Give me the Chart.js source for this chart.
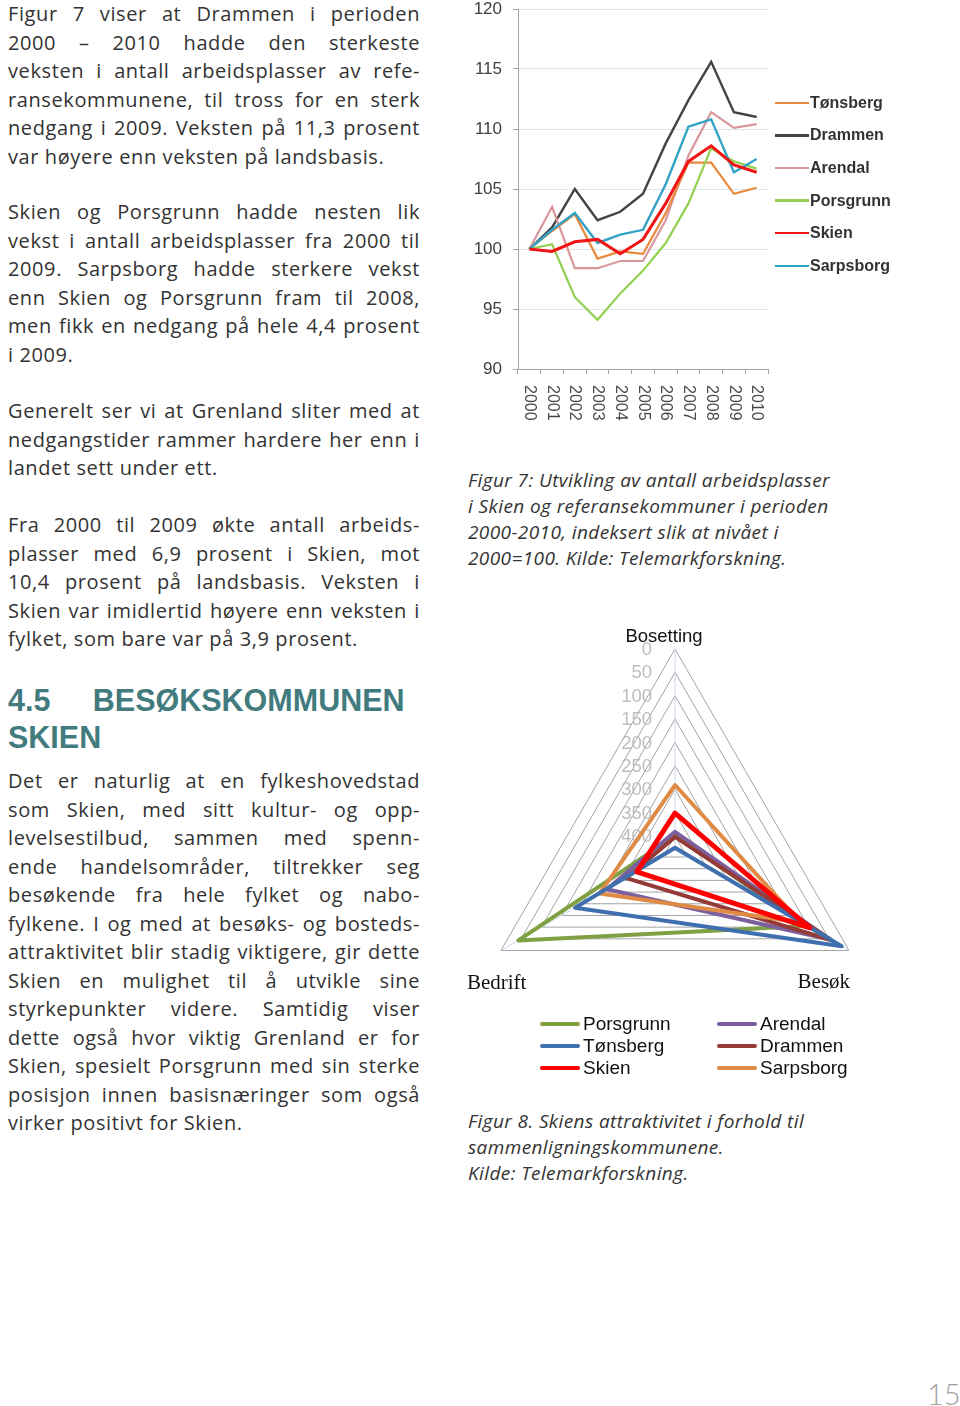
<!DOCTYPE html>
<html>
<head>
<meta charset="utf-8">
<script src="https://cdn.jsdelivr.net/npm/chart.js@4.4.1/dist/chart.umd.min.js"></script>
<style>
  body { margin: 0; width: 960px; height: 1406px; position: relative; background: #fff; overflow: hidden;
         font-family: "Open Sans", Lato, sans-serif; color: #333; }
  .txt { position: absolute; left: 8px; width: 412px; font-size: 20px; line-height: 28.5px; letter-spacing: 0.6px; }
  .txt div { text-align: justify; text-align-last: justify; white-space: nowrap; }
  .txt div.l { text-align: left; text-align-last: left; }
  .head { position: absolute; left: 8px; width: 400px; top: 682px; font-family: "Liberation Sans", Arial, sans-serif;
          font-weight: bold; font-size: 30.5px; line-height: 37px; color: #427b7e; }
  .head div { white-space: nowrap; }
  .cap { position: absolute; left: 468px; font-style: italic; font-size: 19px; letter-spacing: 0.4px; line-height: 26px; color: #333; white-space: nowrap; }
  canvas { position: absolute; }
  .lg { position: absolute; font-family: "Liberation Sans", Arial, sans-serif; white-space: nowrap; }
  .lg span { display: inline-block; vertical-align: middle; }
  .pnum { position: absolute; left: 927px; top: 1376px; font-family: Lato, sans-serif; font-weight: 300; font-size: 29px; color: #a0a0a0; }
</style>
</head>
<body>

<div class="txt" style="top:0px">
  <div>Figur 7 viser at Drammen i perioden</div>
  <div>2000 – 2010 hadde den sterkeste</div>
  <div>veksten i antall arbeidsplasser av refe-</div>
  <div>ransekommunene, til tross for en sterk</div>
  <div>nedgang i 2009. Veksten på 11,3 prosent</div>
  <div class="l">var høyere enn veksten på landsbasis.</div>
</div>
<div class="txt" style="top:198px">
  <div>Skien og Porsgrunn hadde nesten lik</div>
  <div>vekst i antall arbeidsplasser fra 2000 til</div>
  <div>2009. Sarpsborg hadde sterkere vekst</div>
  <div>enn Skien og Porsgrunn fram til 2008,</div>
  <div>men fikk en nedgang på hele 4,4 prosent</div>
  <div class="l">i 2009.</div>
</div>
<div class="txt" style="top:397px">
  <div>Generelt ser vi at Grenland sliter med at</div>
  <div>nedgangstider rammer hardere her enn i</div>
  <div class="l">landet sett under ett.</div>
</div>
<div class="txt" style="top:511px">
  <div>Fra 2000 til 2009 økte antall arbeids-</div>
  <div>plasser med 6,9 prosent i Skien, mot</div>
  <div>10,4 prosent på landsbasis. Veksten i</div>
  <div>Skien var imidlertid høyere enn veksten i</div>
  <div class="l">fylket, som bare var på 3,9 prosent.</div>
</div>
<div class="head">
  <div>4.5&nbsp;&nbsp;&nbsp;&nbsp;&nbsp;BESØKSKOMMUNEN</div>
  <div>SKIEN</div>
</div>
<div class="txt" style="top:767px">
  <div>Det er naturlig at en fylkeshovedstad</div>
  <div>som Skien, med sitt kultur- og opp-</div>
  <div>levelsestilbud, sammen med spenn-</div>
  <div>ende handelsområder, tiltrekker seg</div>
  <div>besøkende fra hele fylket og nabo-</div>
  <div>fylkene. I og med at besøks- og bosteds-</div>
  <div>attraktivitet blir stadig viktigere, gir dette</div>
  <div>Skien en mulighet til å utvikle sine</div>
  <div>styrkepunkter videre. Samtidig viser</div>
  <div>dette også hvor viktig Grenland er for</div>
  <div>Skien, spesielt Porsgrunn med sin sterke</div>
  <div>posisjon innen basisnæringer som også</div>
  <div class="l">virker positivt for Skien.</div>
</div>

<canvas id="lineChart" width="440" height="430" style="left:460px;top:0px"></canvas>
<div id="lineLegend"></div>

<div class="cap" style="top:467px">Figur 7: Utvikling av antall arbeidsplasser<br>i Skien og referansekommuner i perioden<br>2000-2010, indeksert slik at nivået i<br>2000=100. Kilde: Telemarkforskning.</div>

<canvas id="radarChart" width="420" height="470" style="left:460px;top:620px"></canvas>
<div id="radarLegend"></div>

<div class="cap" style="top:1108px">Figur 8. Skiens attraktivitet i forhold til<br>sammenligningskommunene.<br>Kilde: Telemarkforskning.</div>

<div class="pnum">15</div>

<script>
// figur 7 - arbeidsplasser, indeks 2000 = 100
const years = ['2000', '2001', '2002', '2003', '2004', '2005', '2006', '2007', '2008', '2009', '2010'];
const tonsberg = [100, 101.5, 102.9, 99.2, 99.8, 99.6, 103.0, 107.2, 107.2, 104.6, 105.1];
const drammen = [100, 101.8, 105.0, 102.4, 103.1, 104.6, 108.8, 112.4, 115.6, 111.4, 111.0];
const arendal = [100, 103.5, 98.4, 98.4, 99.0, 99.0, 102.4, 107.8, 111.4, 110.1, 110.4];
const porsgrunn = [100, 100.4, 96.0, 94.1, 96.3, 98.2, 100.5, 103.8, 108.4, 107.3, 106.7];
const skien = [100, 99.8, 100.6, 100.8, 99.6, 100.8, 103.8, 107.3, 108.6, 107.0, 106.4];
const sarpsborg = [100, 101.6, 103.0, 100.5, 101.2, 101.6, 105.4, 110.2, 110.8, 106.4, 107.5];
const yTicks = [90, 95, 100, 105, 110, 115, 120];

// figur 8 - attraktivitet (rangering, 0 ytterst)
const radarAxes = ['Bosetting', 'Besøk', 'Bedrift'];
const porsgrunnR = [400, 105, 43];
const tonsbergR = [425, 18, 183];
const skienR = [351, 97, 336];
const arendalR = [391, 47, 262];
const drammenR = [402, 45, 310];
const sarpsborgR = [291, 121, 244];
const radarTicks = [0, 50, 100, 150, 200, 250, 300, 350, 400];
const radarMax = 430;

const lineSets = [
  { label: 'Tønsberg', data: tonsberg, color: '#e8893c', w: 2.2, order: 3 },
  { label: 'Drammen', data: drammen, color: '#444444', w: 2.4, order: 5 },
  { label: 'Arendal', data: arendal, color: '#d9979c', w: 2.2, order: 4 },
  { label: 'Porsgrunn', data: porsgrunn, color: '#92d050', w: 2.2, order: 2 },
  { label: 'Skien', data: skien, color: '#f01414', w: 3, order: 0 },
  { label: 'Sarpsborg', data: sarpsborg, color: '#32a3c4', w: 2.4, order: 1 }
];

const yearLabels = {
  id: 'yearLabels',
  afterDraw(chart) {
    const ctx = chart.ctx;
    const xs = chart.scales.x;
    ctx.save();
    ctx.font = '16px "Liberation Sans", Arial, sans-serif';
    ctx.fillStyle = '#4a4a4a';
    ctx.textAlign = 'left';
    ctx.textBaseline = 'middle';
    years.forEach((y, i) => {
      ctx.save();
      ctx.translate(xs.getPixelForValue(i), chart.chartArea.bottom + 16);
      ctx.rotate(Math.PI / 2);
      ctx.fillText(y, 0, 0);
      ctx.restore();
    });
    ctx.restore();
  }
};

new Chart(document.getElementById('lineChart'), {
  type: 'line',
  data: {
    labels: years,
    datasets: lineSets.map(s => ({
      label: s.label, data: s.data, borderColor: s.color, backgroundColor: s.color,
      borderWidth: s.w, order: s.order, pointRadius: 0, tension: 0
    }))
  },
  options: {
    responsive: false,
    animation: false,
    layout: { padding: { top: 9, right: 132, left: 0, bottom: 0 } },
    plugins: { legend: { display: false }, tooltip: { enabled: false } },
    scales: {
      x: {
        offset: true,
        grid: { offset: true, drawOnChartArea: false, tickLength: 5, color: '#a6a6a6' },
        border: { color: '#a6a6a6' },
        ticks: { display: false },
        afterFit(s) { s.height = 61; s.paddingLeft = 0; s.paddingRight = 0; }
      },
      y: {
        min: 90, max: 120,
        afterBuildTicks(s) { s.ticks = yTicks.map(v => ({ value: v })); },
        ticks: { color: '#404040', font: { size: 17, family: '"Liberation Sans", Arial, sans-serif' }, padding: 11 },
        grid: { color: '#dde5ee', tickColor: '#a6a6a6', tickLength: 5 },
        border: { color: '#a6a6a6' },
        afterFit(s) { s.width = 58; s.paddingTop = 0; s.paddingBottom = 0; }
      }
    }
  },
  plugins: [yearLabels]
});

// legend for figur 7
const lineLegend = document.getElementById('lineLegend');
lineSets.forEach((s, i) => {
  const d = document.createElement('div');
  d.className = 'lg';
  d.style.left = '775px';
  d.style.top = (93 + i * 32.6) + 'px';
  d.style.fontSize = '16px';
  d.style.fontWeight = 'bold';
  d.style.color = '#333';
  d.innerHTML = '<span style="width:34px;height:2.5px;background:' + s.color + '"></span><span style="margin-left:1px">' + s.label + '</span>';
  lineLegend.appendChild(d);
});

const radarSets = [
  { label: 'Porsgrunn', data: porsgrunnR, color: '#7fa043', order: 5 },
  { label: 'Tønsberg', data: tonsbergR, color: '#3f6fae', order: 1 },
  { label: 'Skien', data: skienR, color: '#ff0000', order: 0 },
  { label: 'Arendal', data: arendalR, color: '#7c5f9e', order: 4 },
  { label: 'Drammen', data: drammenR, color: '#943a37', order: 3 },
  { label: 'Sarpsborg', data: sarpsborgR, color: '#df8a45', order: 2 }
];

const radarText = {
  id: 'radarText',
  beforeDatasetsDraw(chart) {
    const ctx = chart.ctx;
    const r = chart.scales.r;
    ctx.save();
    ctx.font = '18.5px "Liberation Sans", Arial, sans-serif';
    ctx.fillStyle = '#bdbdbd';
    ctx.textAlign = 'right';
    ctx.textBaseline = 'middle';
    radarTicks.forEach(v => {
      ctx.fillText(String(v), r.xCenter - 23, r.yCenter - r.getDistanceFromCenterForValue(v) + 1);
    });
    ctx.restore();
  },
  afterDraw(chart) {
    const ctx = chart.ctx;
    const r = chart.scales.r;
    ctx.save();
    ctx.fillStyle = '#111';
    ctx.textBaseline = 'middle';
    const top = r.getPointPosition(0, r.drawingArea);
    ctx.font = '18.5px "Liberation Sans", Arial, sans-serif';
    ctx.textAlign = 'center';
    ctx.fillText(radarAxes[0], top.x - 11, top.y - 12);
    const right = r.getPointPosition(1, r.drawingArea);
    ctx.font = '21px "Liberation Serif", "DejaVu Serif", serif';
    ctx.textAlign = 'right';
    ctx.fillText(radarAxes[1], right.x + 1, right.y + 32);
    const left = r.getPointPosition(2, r.drawingArea);
    ctx.textAlign = 'left';
    ctx.fillText(radarAxes[2], left.x - 34, left.y + 33);
    ctx.restore();
  }
};

new Chart(document.getElementById('radarChart'), {
  type: 'radar',
  data: {
    labels: radarAxes,
    datasets: radarSets.map(s => ({
      label: s.label, data: s.data, borderColor: s.color, backgroundColor: 'rgba(0,0,0,0)',
      borderWidth: s.label === 'Skien' ? 5 : 4, order: s.order, pointRadius: 0, fill: false,
      borderJoinStyle: 'round'
    }))
  },
  options: {
    responsive: false,
    animation: false,
    layout: { padding: { left: 14, right: 4, top: 29, bottom: 39 } },
    plugins: { legend: { display: false }, tooltip: { enabled: false } },
    scales: {
      r: {
        reverse: true,
        min: 0, max: radarMax,
        bounds: 'data',
        afterBuildTicks(s) { s.ticks = [radarMax].concat(radarTicks.slice().reverse()).map(v => ({ value: v })); },
        ticks: { display: false },
        pointLabels: { display: false },
        grid: { color: '#a3a3a3', lineWidth: 1 },
        angleLines: { color: '#c9d8ea', lineWidth: 1 }
      }
    }
  },
  plugins: [radarText]
});

// legend for figur 8 (two columns, like the original)
const radarLegend = document.getElementById('radarLegend');
radarSets.forEach((s, i) => {
  const col = i < 3 ? 0 : 1;
  const row = i % 3;
  const d = document.createElement('div');
  d.className = 'lg';
  d.style.left = (col === 0 ? 540 : 717) + 'px';
  d.style.top = (1012 + row * 22) + 'px';
  d.style.fontSize = '19px';
  d.style.color = '#111';
  d.innerHTML = '<span style="width:40px;height:4px;border-radius:2px;background:' + s.color + '"></span><span style="margin-left:3px">' + s.label + '</span>';
  radarLegend.appendChild(d);
});
</script>
</body>
</html>
